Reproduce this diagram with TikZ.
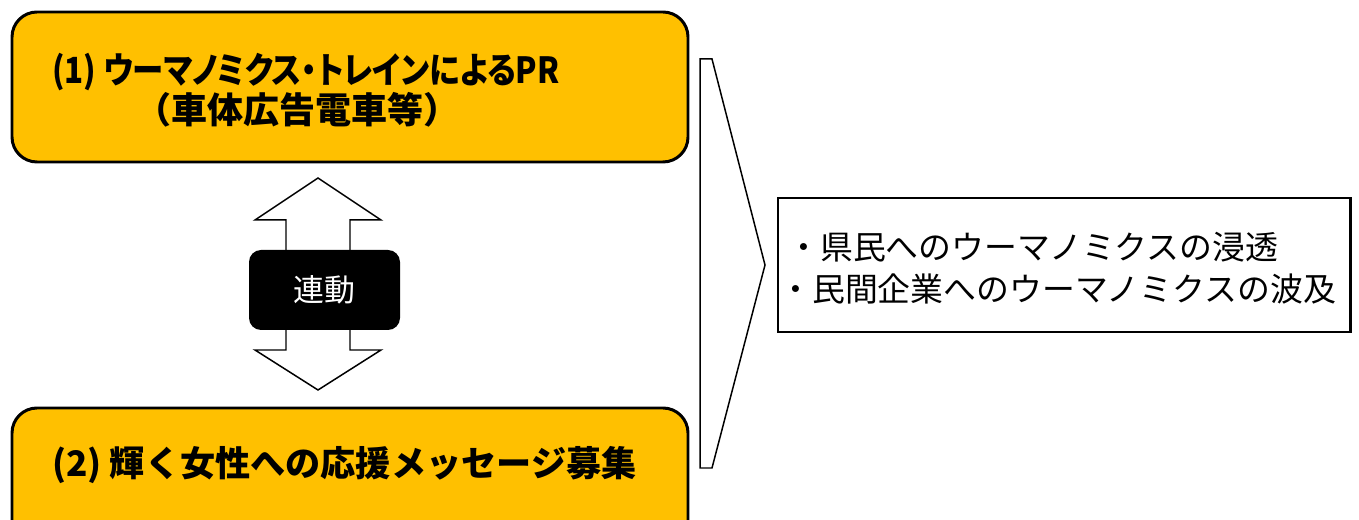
\documentclass[tikz,border=0pt]{standalone}
\usepackage{fontspec}
\setmainfont{Noto Sans CJK JP}
\newfontfamily\jpprop[RawFeature=+palt,FakeStretch=0.87]{Noto Sans CJK JP}
\usetikzlibrary{positioning}
\definecolor{panelyellow}{HTML}{FFC000}

\begin{document}
\begin{tikzpicture}[node distance=7.92cm,on grid,
   panel/.style={draw,line width=1.7pt,fill=panelyellow,rounded corners=0.5cm,
                 minimum width=13.52cm,minimum height=3cm},
   linkbox/.style={fill=black,rounded corners=0.24cm,minimum width=3.02cm,
                   minimum height=1.6cm,text=white,font=\fontsize{17.6}{20}\selectfont},
   resultbox/.style={draw,line width=1.7pt,minimum width=11.44cm,minimum height=2.68cm},
   headtext/.style={anchor=west,inner sep=0pt,font=\bfseries\fontsize{20.5}{24}\selectfont},
   listtext/.style={anchor=west,inner sep=0pt,font=\fontsize{18.7}{22}\selectfont},
   thin/.style={draw,line width=0.85pt,line join=miter}]
   \useasboundingbox (0,0) rectangle (27.18,-10.4);
   \begin{scope}
      \clip (0,0) rectangle (27.18,-10.4);
      \node[panel] (train) at (7.0,-1.74) {};
      \node[panel] (message) [below=of train] {};
   \end{scope}
   \node[headtext] (trainline) at (1.04,-1.44) {\jpprop (1) ウーマノミクス・トレインによるPR};
   \node[headtext] (trainsub) at (2.7,-2.2) {（車体広告電車等）};
   \node[headtext,font=\bfseries\fontsize{20}{24}\selectfont] (messageline) at (1.04,-9.3)
      {(2) 輝く女性への応援メッセージ募集};
   % block arrow between the two panels
   \draw[thin,fill=white] (6.36,-3.56) -- (7.62,-4.4) -- (7.0,-4.4) -- (7.0,-7.0)
      -- (7.62,-7.0) -- (6.36,-7.8) -- (5.1,-7.0) -- (5.72,-7.0) -- (5.72,-4.4)
      -- (5.1,-4.4) -- cycle;
   \node[linkbox] (link) at (6.49,-5.8) {連動};
   % chevron towards the result
   \draw[thin] (14.0,-1.18) -- (14.24,-1.18) -- (15.3,-5.3) -- (14.24,-9.36)
      -- (14.0,-9.36) -- cycle;
   \node[resultbox] (effect) at (21.28,-5.3) {};
   \node[listtext] (effect1) at (15.74,-4.94) {・県民へのウーマノミクスの浸透};
   \node[listtext] (effect2) at (15.58,-5.78) {・民間企業へのウーマノミクスの波及};
\end{tikzpicture}
\end{document}
